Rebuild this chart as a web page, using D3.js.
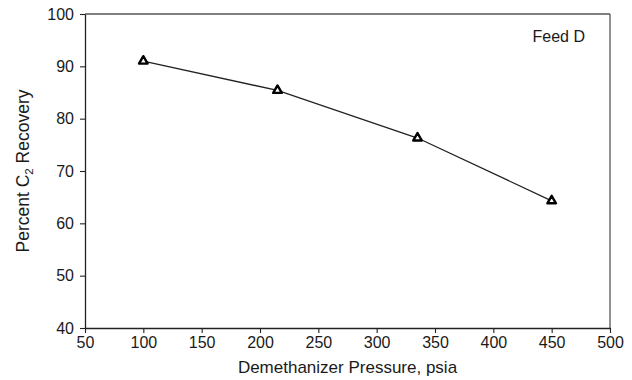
<!DOCTYPE html>
<html>
<head>
<meta charset="utf-8">
<script src="https://cdn.jsdelivr.net/npm/d3@7"></script>
<style>
  body { margin: 0; background: #fff; }
  text { font-family: "Liberation Sans", Arial, sans-serif; fill: #1a1a1a; }
</style>
</head>
<body>
<svg id="chart"></svg>
<script>
// data
var pressure = [100, 215, 335, 450];
var recovery = [91.0, 85.4, 76.3, 64.3];
var xTicks = [50, 100, 150, 200, 250, 300, 350, 400, 450, 500];
var yTicks = [40, 50, 60, 70, 80, 90, 100];
var feedLabel = "Feed D";

var svgWidth = 632,
    svgHeight = 380;

var margin = {top: 14, right: 22, bottom: 52, left: 85};
var w = svgWidth - margin.left - margin.right,
    h = svgHeight - margin.top - margin.bottom;

var svg = d3.select("#chart")
  .attr("width", svgWidth)
  .attr("height", svgHeight);

var g = svg.append("g")
  .attr("transform", "translate(" + margin.left + "," + margin.top + ")");

var x = d3.scaleLinear().domain([50, 500]).range([0, w]),
    y = d3.scaleLinear().domain([40, 100]).range([h, 0]);

// frame (top/right lighter)
g.append("line").attr("x1", 0).attr("x2", w).attr("y1", 0).attr("y2", 0)
  .attr("stroke", "#555").attr("stroke-width", 1.3);
g.append("line").attr("x1", w).attr("x2", w).attr("y1", 0).attr("y2", h)
  .attr("stroke", "#555").attr("stroke-width", 1.3);

var xAxis = g.append("g")
  .attr("transform", "translate(0," + h + ")")
  .call(d3.axisBottom(x).tickValues(xTicks).tickSize(5).tickPadding(4).tickSizeOuter(0));

var yAxis = g.append("g")
  .call(d3.axisLeft(y).tickValues(yTicks).tickSize(5).tickPadding(6).tickSizeOuter(0));

[xAxis, yAxis].forEach(function(a) {
  a.select(".domain").attr("stroke", "#222").attr("stroke-width", 1.3);
  a.selectAll(".tick line").attr("stroke", "#222").attr("stroke-width", 1.1);
  a.selectAll(".tick text")
    .style("font-family", "Liberation Sans, Arial, sans-serif")
    .style("font-size", "16px")
    .attr("fill", "#1a1a1a");
});

// series
var pts = pressure.map(function(p, i) { return [p, recovery[i]]; });

var line = d3.line()
  .x(function(d) { return x(d[0]); })
  .y(function(d) { return y(d[1]); });

g.append("path")
  .datum(pts)
  .attr("d", line)
  .attr("fill", "none")
  .attr("stroke", "#222")
  .attr("stroke-width", 1.3);

g.selectAll(".pt")
  .data(pts)
  .enter().append("path")
  .attr("class", "pt")
  .attr("transform", function(d) { return "translate(" + x(d[0]) + "," + y(d[1]) + ")"; })
  .attr("d", d3.symbol().type(d3.symbolTriangle).size(32))
  .attr("fill", "#fff")
  .attr("stroke", "#000")
  .attr("stroke-width", 2.4)
  .attr("stroke-linejoin", "round");

// labels
g.append("text")
  .attr("x", w - 25)
  .attr("y", 28)
  .attr("text-anchor", "end")
  .style("font-size", "16px")
  .text(feedLabel);

svg.append("text")
  .attr("x", margin.left + w / 2)
  .attr("y", 373)
  .attr("text-anchor", "middle")
  .style("font-size", "17px")
  .text("Demethanizer Pressure, psia");

var yt = svg.append("text")
  .attr("transform", "translate(29," + (margin.top + h / 2) + ") rotate(-90)")
  .attr("text-anchor", "middle")
  .style("font-size", "17.5px");
yt.append("tspan").text("Percent C");
yt.append("tspan").attr("dy", 4).style("font-size", "11.5px").text("2");
yt.append("tspan").attr("dy", -4).text(" Recovery");
</script>
</body>
</html>
